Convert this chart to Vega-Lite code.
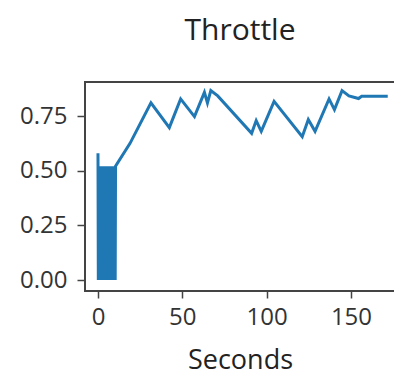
{
  "$schema": "https://vega.github.io/schema/vega-lite/v6.json",
  "autosize": "none",
  "padding": {"left": 85, "top": 82, "right": 0, "bottom": 88},
  "width": 310,
  "height": 209,
  "background": "white",
  "title": {"text": "Throttle", "fontSize": 30, "font": "Open Sans", "fontWeight": "normal", "color": "#222", "offset": 36, "anchor": "middle"},
  "config": {
    "view": {"stroke": "#444", "strokeWidth": 2},
    "axis": {"grid": false, "domain": false, "tickColor": "#444", "tickWidth": 1.5, "labelFont": "Open Sans", "titleFont": "Open Sans", "labelColor": "#333", "titleColor": "#222", "labelFontSize": 24, "titleFontSize": 27, "titleFontWeight": "normal"}
  },
  "data": {"values": [
    {"t": 0, "v": 0.58}, {"t": 0.2, "v": 0}, {"t": 0.4, "v": 0.52}, {"t": 0.6, "v": 0}, {"t": 0.8, "v": 0.52},
    {"t": 1.0, "v": 0}, {"t": 1.2, "v": 0.52}, {"t": 1.4, "v": 0}, {"t": 1.6, "v": 0.52}, {"t": 1.8, "v": 0},
    {"t": 2.0, "v": 0.52}, {"t": 2.2, "v": 0}, {"t": 2.4, "v": 0.52}, {"t": 2.6, "v": 0}, {"t": 2.8, "v": 0.52},
    {"t": 3.0, "v": 0}, {"t": 3.2, "v": 0.52}, {"t": 3.4, "v": 0}, {"t": 3.6, "v": 0.52}, {"t": 3.8, "v": 0},
    {"t": 4.0, "v": 0.52}, {"t": 4.2, "v": 0}, {"t": 4.4, "v": 0.52}, {"t": 4.6, "v": 0}, {"t": 4.8, "v": 0.52},
    {"t": 5.0, "v": 0}, {"t": 5.2, "v": 0.52}, {"t": 5.4, "v": 0}, {"t": 5.6, "v": 0.52}, {"t": 5.8, "v": 0},
    {"t": 6.0, "v": 0.52}, {"t": 6.2, "v": 0}, {"t": 6.4, "v": 0.52}, {"t": 6.6, "v": 0}, {"t": 6.8, "v": 0.52},
    {"t": 7.0, "v": 0}, {"t": 7.2, "v": 0.52}, {"t": 7.4, "v": 0}, {"t": 7.6, "v": 0.52}, {"t": 7.8, "v": 0},
    {"t": 8.0, "v": 0.52}, {"t": 8.2, "v": 0}, {"t": 8.4, "v": 0.52}, {"t": 8.6, "v": 0}, {"t": 8.8, "v": 0.52},
    {"t": 9.0, "v": 0}, {"t": 9.2, "v": 0.52}, {"t": 9.4, "v": 0}, {"t": 9.6, "v": 0.52}, {"t": 9.8, "v": 0},
    {"t": 10.0, "v": 0.52}, {"t": 10.2, "v": 0}, {"t": 10.4, "v": 0.52},
    {"t": 19, "v": 0.625}, {"t": 31.4, "v": 0.81}, {"t": 42.3, "v": 0.697}, {"t": 49.0, "v": 0.828},
    {"t": 57.2, "v": 0.747}, {"t": 63.1, "v": 0.858}, {"t": 64.9, "v": 0.81}, {"t": 66.9, "v": 0.866},
    {"t": 71.0, "v": 0.842}, {"t": 91.1, "v": 0.671}, {"t": 93.8, "v": 0.729}, {"t": 96.8, "v": 0.68},
    {"t": 104.4, "v": 0.817}, {"t": 121.1, "v": 0.655}, {"t": 124.7, "v": 0.734}, {"t": 128.7, "v": 0.68},
    {"t": 137.0, "v": 0.828}, {"t": 140.2, "v": 0.779}, {"t": 144.7, "v": 0.866}, {"t": 148.8, "v": 0.842},
    {"t": 154.5, "v": 0.83}, {"t": 156.3, "v": 0.84}, {"t": 171.8, "v": 0.84}
  ]},
  "mark": {"type": "line", "color": "#1f77b4", "strokeWidth": 3, "clip": true},
  "encoding": {
    "x": {"field": "t", "type": "quantitative", "scale": {"domain": [-7.7, 176.1], "nice": false, "zero": false},
      "axis": {"values": [0, 50, 100, 150], "title": "Seconds", "tickSize": 7, "labelPadding": 7, "titlePadding": 18}},
    "y": {"field": "v", "type": "quantitative", "scale": {"domain": [-0.0503, 0.9055], "nice": false, "zero": false},
      "axis": {"values": [0, 0.25, 0.5, 0.75], "format": ".2f", "title": null, "tickSize": 8, "labelPadding": 10}}
  }
}
